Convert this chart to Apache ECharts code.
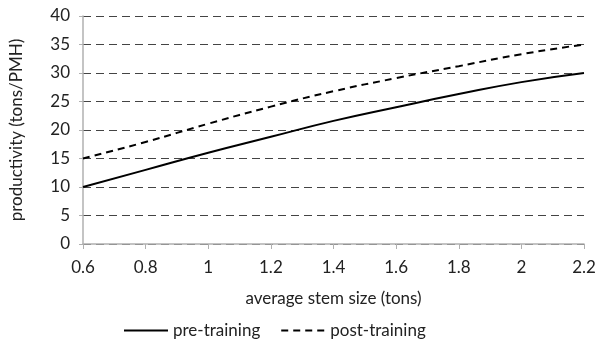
<!DOCTYPE html>
<html>
<head>
<meta charset="utf-8">
<script src="https://cdn.jsdelivr.net/npm/echarts@6/dist/echarts.min.js"></script>
<style>
  html, body { margin: 0; padding: 0; background: #fff; }
  #main { width: 604px; height: 350px; }
</style>
</head>
<body>
<div id="main"></div>
<script>
// stem size (tons)
const stemSize = [0.6, 0.8, 1.0, 1.2, 1.4, 1.6, 1.8, 2.0, 2.2];
const preTraining = [10, 13.0, 16.0, 18.8, 21.6, 24.0, 26.3, 28.4, 30];
const postTraining = [15, 17.9, 21.1, 24.1, 26.8, 29.1, 31.2, 33.3, 35];

const font = 'Lato, "Open Sans", sans-serif';

let myChart = echarts.init(document.getElementById('main'));
myChart.setOption({
    animation: false,
    textStyle: { fontFamily: font },
    grid: {
        left: 81,
        right: 20,
        top: 16,
        bottom: 106
    },
    legend: {
        bottom: 6,
        left: 118,
        itemWidth: 44,
        itemHeight: 10,
        itemGap: 20,
        itemStyle: { opacity: 0, borderWidth: 0 },
        textStyle: { fontSize: 17, color: '#222', fontFamily: font },
        data: ['pre-training', 'post-training']
    },
    xAxis: {
        type: 'value',
        min: 0.6,
        max: 2.2,
        interval: 0.2,
        name: 'average stem size (tons)',
        nameLocation: 'middle',
        nameGap: 46,
        nameTextStyle: { fontSize: 17, color: '#222' },
        axisLine: { lineStyle: { color: '#b0b0b0', width: 1.5 } },
        axisTick: { show: true, length: 5, lineStyle: { color: '#b0b0b0' } },
        axisLabel: {
            fontSize: 17,
            color: '#222',
            margin: 15,
            formatter: v => String(Math.round(v * 10) / 10)
        },
        splitLine: { show: false }
    },
    yAxis: {
        type: 'value',
        min: 0,
        max: 40,
        interval: 5,
        name: 'productivity (tons/PMH)',
        nameLocation: 'middle',
        nameGap: 58,
        nameTextStyle: { fontSize: 17, color: '#222' },
        axisLine: { show: true, lineStyle: { color: '#b0b0b0', width: 1.5 } },
        axisTick: { show: true, length: 4, lineStyle: { color: '#b0b0b0' } },
        axisLabel: { fontSize: 17, color: '#222', margin: 13 },
        splitLine: {
            show: true,
            lineStyle: { color: '#444', type: [8, 5], width: 1 }
        }
    },
    series: [{
        name: 'pre-training',
        type: 'line',
        smooth: true,
        symbol: 'none',
        data: stemSize.map((x, i) => [x, preTraining[i]]),
        lineStyle: { color: '#000', width: 2, type: 'solid' },
        itemStyle: { color: '#000' }
    }, {
        name: 'post-training',
        type: 'line',
        smooth: true,
        symbol: 'none',
        data: stemSize.map((x, i) => [x, postTraining[i]]),
        lineStyle: { color: '#000', width: 2, type: [7, 5] },
        itemStyle: { color: '#000' }
    }]
});
</script>
</body>
</html>
